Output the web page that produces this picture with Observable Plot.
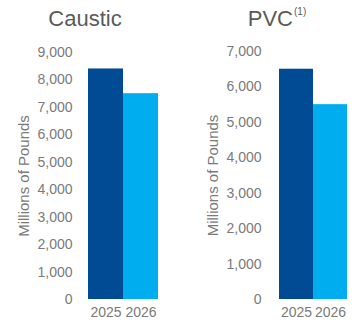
<!DOCTYPE html>
<html>
<head>
<meta charset="utf-8">
<script src="https://cdn.jsdelivr.net/npm/d3@7"></script>
<script src="https://cdn.jsdelivr.net/npm/@observablehq/plot@0.6"></script>
<style>
  html, body { margin: 0; padding: 0; background: #fff; }
  #wrap { position: relative; width: 361px; height: 326px; overflow: hidden; font-family: "Liberation Sans", Arial, sans-serif; }
  .panel { position: absolute; top: 0; }
  .title { position: absolute; top: 6px; font-size: 22px; line-height: 26px; color: #5a5a5a; white-space: nowrap; transform: translateX(-50%); }
  .title sup { font-size: 10px; line-height: 0; position: relative; top: -11px; vertical-align: baseline; margin-left: 1px; }
</style>
</head>
<body>
<div id="wrap"></div>
<script>
const years = ["2025", "2026"];
const causticValues = [8400, 7500];
const pvcValues = [6500, 5500];
const causticTicks = [0, 1000, 2000, 3000, 4000, 5000, 6000, 7000, 8000, 9000];
const pvcTicks = [0, 1000, 2000, 3000, 4000, 5000, 6000, 7000];
const yearColors = ["#004B93", "#00AEEF"];
const yLabel = "Millions of Pounds";

function panel({values, ticks, maxY, width, left, marginLeft, marginRight, marginTop, tickPadding, labelOffset}) {
  const data = years.map((y, i) => ({year: y, value: values[i]}));
  const p = Plot.plot({
    width, height: 326,
    marginLeft, marginRight, marginTop, marginBottom: 27,
    style: {fontFamily: "Liberation Sans, Arial, sans-serif", fontSize: "14px", color: "#7a7a7a", background: "transparent"},
    x: {domain: years, padding: 0, label: null},
    y: {domain: [0, maxY], ticks, tickFormat: d3.format(","), label: yLabel},
    color: {domain: years, range: yearColors},
    marks: [
      Plot.barY(data, {x: "year", y: "value", fill: "year"}),
      Plot.axisY({ticks, tickFormat: d3.format(","), tickSize: 0, tickPadding, label: null, fontSize: 14}),
      Plot.axisY({ticks: [], tickSize: 0, label: yLabel, labelAnchor: "center", labelArrow: "none", labelOffset, fontSize: 15}),
      Plot.axisX({tickSize: 0, tickPadding: 8, label: null, fontSize: 14})
    ]
  });
  p.classList.add("panel");
  p.style.left = left + "px";
  return p;
}

const wrap = document.getElementById("wrap");
wrap.appendChild(panel({values: causticValues, ticks: causticTicks, maxY: 9000, width: 180, left: 0, marginLeft: 88, marginRight: 22, marginTop: 52, tickPadding: 16, labelOffset: 70}));
wrap.appendChild(panel({values: pvcValues, ticks: pvcTicks, maxY: 7000, width: 181, left: 180, marginLeft: 98, marginRight: 14, marginTop: 51, tickPadding: 17, labelOffset: 71}));

const t1 = document.createElement("div");
t1.className = "title"; t1.style.left = "85px"; t1.textContent = "Caustic";
wrap.appendChild(t1);
const t2 = document.createElement("div");
t2.className = "title"; t2.style.left = "277px"; t2.innerHTML = "PVC<sup>(1)</sup>";
wrap.appendChild(t2);
</script>
</body>
</html>
